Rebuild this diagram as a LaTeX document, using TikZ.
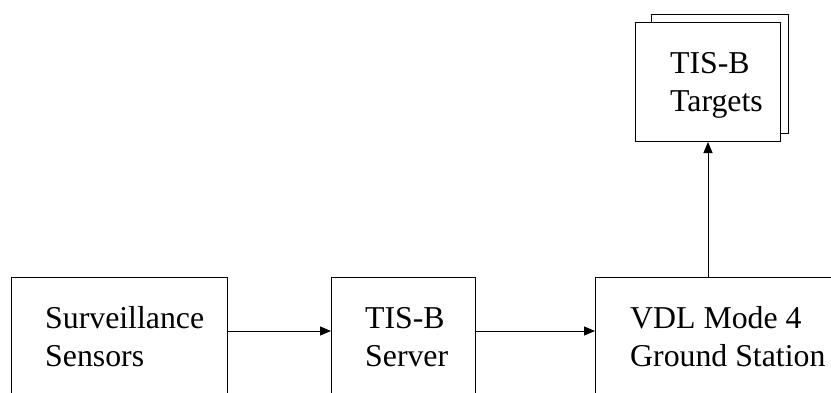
\documentclass[tikz,border=0pt]{standalone}
\usepackage{fontspec}
\setmainfont{Liberation Serif}
\usetikzlibrary{arrows.meta}
\tikzset{
  box/.style={draw=black, line width=1pt, fill=white, rectangle, inner sep=0pt, anchor=north west},
  lbl/.style={font=\fontsize{31.8}{38.5}\selectfont, align=left, inner sep=0pt, anchor=base west},
  conn/.style={draw=black, line width=1pt, -{Triangle[length=11pt,width=9pt]}}
}
\begin{document}
\begin{tikzpicture}[x=1pt,y=-1pt]
\useasboundingbox (0,0) rectangle (831,392);
\clip (0,0) rectangle (831,392);
% bottom boxes
\node[box, minimum width=216pt, minimum height=150pt] (sens) at (11,277) {};
\node[box, minimum width=144pt, minimum height=150pt] (srv) at (331,277) {};
\node[box, minimum width=260pt, minimum height=150pt] (vdl) at (595,277) {};
% targets (stacked)
\node[box, minimum width=137pt, minimum height=119pt] (tgtback) at (651,14) {};
\node[box, minimum width=145pt, minimum height=119pt] (tgt) at (635,22) {};
% labels (anchored at baseline of last line)
\node[lbl] (sensl) at ([xshift=34pt,yshift=-89.5pt]sens.north west) {Surveillance\\Sensors};
\node[lbl] (srvl) at ([xshift=34pt,yshift=-89.5pt]srv.north west) {TIS-B\\Server};
\node[lbl] (vdll) at ([xshift=35pt,yshift=-89.5pt]vdl.north west) {VDL Mode 4\\Ground Station};
\node[lbl] (tgtl) at ([xshift=35pt,yshift=-89.5pt]tgt.north west) {TIS-B\\Targets};
% connectors
\draw[conn] ([yshift=-54pt]sens.north east) -- ([yshift=-54pt]srv.north west);
\draw[conn] ([yshift=-54pt]srv.north east) -- ([yshift=-54pt]vdl.north west);
\draw[conn] (tgt.south |- vdl.north) -- (tgt.south);
\end{tikzpicture}
\end{document}
